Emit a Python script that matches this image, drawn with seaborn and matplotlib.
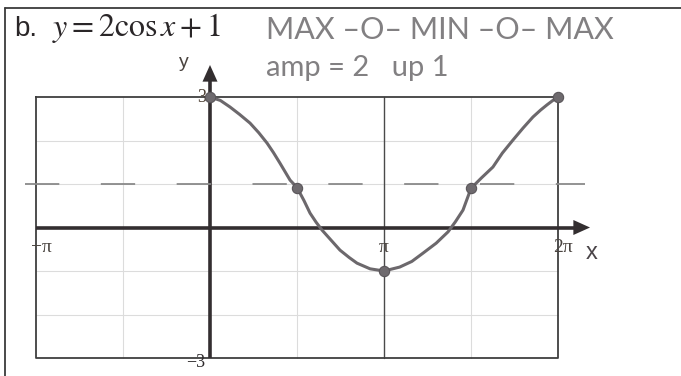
import numpy as np
import pandas as pd
import matplotlib
matplotlib.use("Agg")
import matplotlib.pyplot as plt
import seaborn as sns

# Sketched graph of y = 2cos x + 1 (x measured in multiples of pi)
curve_x = [0.0, 0.06, 0.115, 0.17, 0.23, 0.28, 0.328, 0.365, 0.402, 0.46, 0.5, 0.54,
           0.575, 0.61, 0.644, 0.70, 0.747, 0.80, 0.845, 0.92, 1.0, 1.09, 1.16,
           1.224, 1.30, 1.368, 1.41, 1.454, 1.5, 1.56, 1.626, 1.68, 1.741, 1.80,
           1.856, 1.90, 1.937, 1.97, 2.0]
curve_y = [3.0, 2.92, 2.77, 2.60, 2.40, 2.18, 1.94, 1.72, 1.48, 1.09, 0.92, 0.62,
           0.33, 0.12, -0.06, -0.31, -0.52, -0.69, -0.82, -0.95, -1.0, -0.91, -0.78,
           -0.59, -0.36, -0.10, 0.13, 0.40, 0.90, 1.14, 1.39, 1.71, 2.01, 2.29,
           2.54, 2.70, 2.82, 2.92, 3.0]

# Key points: MAX - 0 - MIN - 0 - MAX
key_x = [0.0, 0.5, 1.0, 1.5, 2.0]
key_y = [3.0, 0.9, -1.0, 0.9, 3.0]

# Midline (shifted up 1)
midline_y = 1.0
midline_x = [-1.063, 2.155]

x_ticks = [-1.0, 1.0, 2.0]
x_tick_labels = ["\u2212\u03c0", "\u03c0", "2\u03c0"]
y_ticks = [3, -3]
y_tick_labels = ["3", "\u22123"]

W, H = 681, 376
sns.set_theme(style="white")
plt.rcParams["mathtext.fontset"] = "stix"
fig = plt.figure(figsize=(W / 100, H / 100), dpi=100)
fig.patch.set_facecolor("white")
ax = fig.add_axes([0, 0, 1, 1])
ax.set_facecolor("white")

# pixel -> data mapping of the graph
X0, XPI = 210.0, 174.0     # pixel of x=0, pixels per pi
Y0, YU = 227.5, 43.5       # pixel of y=0, pixels per unit

def fpos(px, py):
    return px / W, 1 - py / H

# light grid
for gx in [-0.5, 0.5, 1.5]:
    ax.plot([gx, gx], [-3, 3], color="#dcdcdc", lw=0.8, zorder=1)
for gy in [-2, -1, 1, 2]:
    ax.plot([-1, 2], [gy, gy], color="#dcdcdc", lw=0.8, zorder=1)
# pi gridline and frame
ax.plot([1, 1], [-3, 3], color="#4a4a4a", lw=1.0, zorder=2)
ax.plot([-1, 2, 2, -1, -1], [3, 3, -3, -3, 3], color="#3f3f3f", lw=1.3, zorder=2)

# axes with arrows
axis_col = "#332e30"
ax.plot([-1, 2.12], [0, 0], color=axis_col, lw=2.6, zorder=3, solid_capstyle="butt")
ax.annotate("", xy=(2.20, 0), xytext=(2.10, 0),
            arrowprops=dict(arrowstyle="-|>,head_length=1.0,head_width=0.45",
                            color=axis_col, lw=0), zorder=3)
ax.plot([0, 0], [-3, 3.55], color=axis_col, lw=2.6, zorder=3, solid_capstyle="butt")
ax.annotate("", xy=(0, 3.80), xytext=(0, 3.5),
            arrowprops=dict(arrowstyle="-|>,head_length=1.0,head_width=0.45",
                            color=axis_col, lw=0), zorder=3)

# dashed midline
ax.plot(midline_x, [midline_y, midline_y], color="#8a8a8a", lw=1.3,
        linestyle=(0, (19, 23)), zorder=3)

# curve and key points
df = pd.DataFrame({"x": curve_x, "y": curve_y})
sns.lineplot(data=df, x="x", y="y", sort=False, ax=ax, color="#6c686c",
             lw=2.2, zorder=4, legend=False)
kp = pd.DataFrame({"x": key_x, "y": key_y})
sns.scatterplot(data=kp, x="x", y="y", ax=ax, color="#6e6a6e", s=55,
                edgecolor="#5a565a", linewidth=0.8, zorder=5, legend=False)
ax.set_xlim((0 - X0) / XPI, (W - X0) / XPI)
ax.set_ylim((Y0 - H) / YU, (Y0 - 0) / YU)
ax.axis("off")

# tick labels
serif = "Liberation Serif"
for xt, lab in zip(x_ticks, x_tick_labels):
    dx = 0.03 if xt < 0 else (0.03 if xt == 2 else 0.0)
    ax.text(xt + dx, -0.45, lab, ha="center", va="center", fontsize=14,
            family=serif, color="#4a4440")
ax.text(-0.05, 3.0, y_tick_labels[0], ha="center", va="center", fontsize=13,
        family=serif, color="#4a3c30")
ax.text(-0.085, -3.1, y_tick_labels[1], ha="center", va="center", fontsize=13,
        family=serif, color="#2e2a2c")
ax.text(2.195, -0.58, "x", ha="center", va="center", fontsize=17,
        family="Liberation Sans", color="#4a4448")
ax.text(-0.15, 3.8, "y", ha="center", va="center", fontsize=14,
        family="Liberation Sans", color="#4a4440")

# heading
fig.text(*fpos(14, 36), "b.", fontsize=20, family="Liberation Sans",
         color="#2a2628", va="baseline", ha="left")
fig.text(*fpos(52, 36), r"$y=2\cos x+1$", fontsize=23, color="#2a2628",
         va="baseline", ha="left")

# pencil notes
fig.text(*fpos(266, 39), "MAX \u2013O\u2013 MIN \u2013O\u2013 MAX", fontsize=22,
         family="Lato", color="#828082", va="baseline", ha="left")
fig.text(*fpos(266, 76), "amp = 2   up 1", fontsize=21,
         family="Lato", color="#828082", va="baseline", ha="left")

# page border
fig.add_artist(plt.Line2D([5 / W, 1], [1 - 8 / H, 1 - 8 / H], color="#3a3a3a", lw=1.3))
fig.add_artist(plt.Line2D([5 / W, 5 / W], [0, 1 - 8 / H], color="#3a3a3a", lw=1.3))

fig.savefig("out.png", dpi=100, facecolor="white")
